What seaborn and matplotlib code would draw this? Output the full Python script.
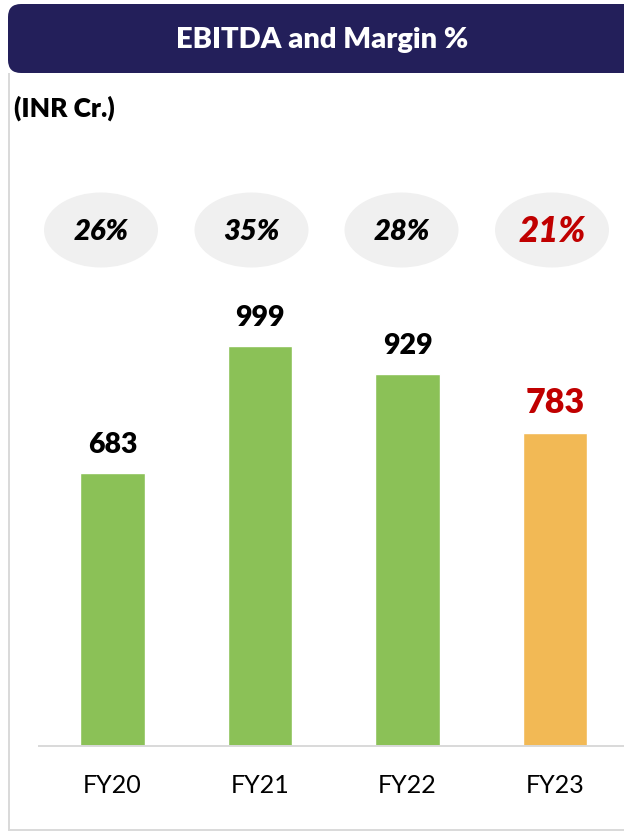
import matplotlib
matplotlib.use("Agg")
import matplotlib.pyplot as plt
from matplotlib.patches import Ellipse, FancyBboxPatch
import seaborn as sns
import pandas as pd

# EBITDA (INR Cr.) and EBITDA margin by fiscal year
years = ["FY20", "FY21", "FY22", "FY23"]
ebitda = [683, 999, 929, 783]
margins = ["26%", "35%", "28%", "21%"]

# Latest year is highlighted: orange bar, red and larger labels
bar_colors = ["#8BC157", "#8BC157", "#8BC157", "#F2B955"]
label_colors = ["#000000", "#000000", "#000000", "#C00000"]
value_sizes = [20.5, 20.5, 20.5, 24.5]
margin_sizes = [21, 21, 21, 25]

sns.set_theme(style="white")
plt.rcParams["font.family"] = ["Lato", "DejaVu Sans"]

W, H = 624, 832
fig = plt.figure(figsize=(W / 100, H / 100), dpi=100)
fig.patch.set_facecolor("white")

# Pixel-space layer for the header, frame and margin bubbles
deco = fig.add_axes([0, 0, 1, 1], zorder=0)
deco.set_xlim(0, W)
deco.set_ylim(H, 0)
deco.axis("off")

navy = "#231F5A"
frame = "#D9D9D9"
header = FancyBboxPatch((8, 4), 660, 69, boxstyle="round,pad=0,rounding_size=13",
                        facecolor=navy, edgecolor="none")
deco.add_patch(header)
deco.text(322, 48, "EBITDA and Margin %", color="white", fontsize=21,
          fontweight="heavy", ha="center", va="baseline")

deco.plot([8.5, 8.5], [73, 830], color=frame, lw=1.4, solid_capstyle="butt")
deco.plot([8, W], [830, 830], color=frame, lw=1.4, solid_capstyle="butt")

deco.text(14, 117, "(INR Cr.)", color="black", fontsize=19, fontweight="heavy",
          ha="left", va="baseline")

bubble_x = [101, 251.5, 401.5, 552]
for bx, m, c, fs in zip(bubble_x, margins, label_colors, margin_sizes):
    deco.add_patch(Ellipse((bx, 230), 114, 75, facecolor="#F0F0F0", edgecolor="none"))
    deco.text(bx, 231 + fs * 0.43, m, color=c, fontsize=fs, fontweight="heavy",
              style="italic", ha="center", va="baseline")

# Bar chart, baseline at y=746 px, 0.4 px per crore
base_px, top_px, left_px = 746, 140, 39
px_per_unit = 0.4
ax = fig.add_axes([left_px / W, (H - base_px) / H, (W - left_px) / W, (base_px - top_px) / H],
                  zorder=1)
ax.patch.set_visible(False)

df = pd.DataFrame({"year": years, "ebitda": ebitda})
sns.barplot(data=df, x="year", y="ebitda", hue="year", palette=bar_colors,
            width=0.44, legend=False, saturation=1, ax=ax)

slot = 147.5
x0 = -73.5 / slot
ax.set_xlim(x0, x0 + (W - left_px) / slot)
ax.set_ylim(0, (base_px - top_px) / px_per_unit)

for i, (v, c, fs) in enumerate(zip(ebitda, label_colors, value_sizes)):
    ax.annotate(f"{v}", (i, v), xytext=(0, 20 * 0.72), textcoords="offset points",
                ha="center", va="baseline", fontsize=fs, fontweight="heavy", color=c)

for s in ["top", "right", "left"]:
    ax.spines[s].set_visible(False)
ax.spines["bottom"].set_color(frame)
ax.spines["bottom"].set_linewidth(1.4)
ax.set_yticks([])
ax.set_xlabel("")
ax.set_ylabel("")
ax.tick_params(axis="x", length=0, pad=20, labelsize=18, labelcolor="#000000")

fig.savefig("out.png", dpi=100, facecolor="white")
